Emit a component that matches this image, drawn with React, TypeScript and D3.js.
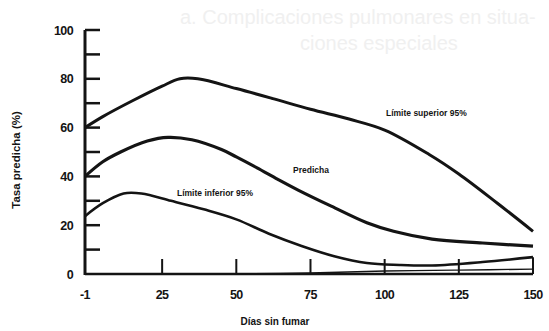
import * as d3 from 'd3';

// days without smoking (x) and predicted rate in % (y)
const upperDays = [-1, 5, 15, 25, 31, 37, 50, 62, 75, 88, 100, 115, 125, 138, 150];
const upperVals = [60, 64.5, 71, 77, 80, 80, 76, 72, 67.5, 63.5, 59, 49, 41, 29, 17.5];

const predDays = [-1, 5, 11, 20, 27, 35, 45, 50, 57, 64, 71, 82, 94, 103, 116, 133, 150];
const predVals = [40, 46, 50, 54.5, 56, 55, 51, 48, 43.5, 38.8, 34.3, 27.8, 21, 17.5, 14.3, 12.7, 11.4];

const lowerDays = [-1, 5, 12, 18, 28, 39, 50, 61, 72, 83, 94, 105, 116, 133, 150];
const lowerVals = [23.7, 29, 33, 33, 30, 26.5, 22.4, 16.5, 11.5, 7.3, 4.5, 3.7, 3.5, 4.9, 6.9];

const floorDays = [50, 75, 100, 125, 150];
const floorVals = [0, 0.4, 1.2, 1.6, 2];

const xTicks = [-1, 25, 50, 75, 100, 125, 150];
const yTicks = [0, 20, 40, 60, 80, 100];
const yMinorTicks = [10, 20, 30, 40, 50, 60, 70, 80, 90, 100];

const labelUpper = 'Límite superior 95%';
const labelPred = 'Predicha';
const labelLower = 'Límite inferior 95%';

export default function App() {
  const width = 549;
  const height = 331;

  const x = d3.scaleLinear().domain([-1, 150]).range([85, 533]);
  const y = d3.scaleLinear().domain([0, 100]).range([274, 30]);

  const line = d3.line<[number, number]>()
    .x(d => x(d[0]))
    .y(d => y(d[1]))
    .curve(d3.curveCatmullRom.alpha(0.5));

  const zip = (xs: number[], ys: number[]) => xs.map((v, i) => [v, ys[i]] as [number, number]);

  const font = '"Liberation Sans", Arial, sans-serif';
  const ink = '#141414';

  return (
    <svg width={width} height={height} style={{ position: 'absolute', left: 0, top: 0, background: '#fff' }}>
      {/* faint show-through of the page heading */}
      <text x={180} y={24} fontFamily={font} fontSize={20} fill="#f0f0f0">a. Complicaciones pulmonares en situa-</text>
      <text x={300} y={50} fontFamily={font} fontSize={20} fill="#f0f0f0">ciones especiales</text>

      {/* axes */}
      <line x1={x(-1)} x2={x(-1)} y1={y(100)} y2={y(0) + 1} stroke={ink} strokeWidth={3} />
      <line x1={x(-1)} x2={x(150)} y1={y(0)} y2={y(0)} stroke={ink} strokeWidth={2.5} />
      {yMinorTicks.map(t => (
        <line key={'yt' + t} x1={x(-1)} x2={x(-1) + 15} y1={y(t)} y2={y(t)} stroke={ink} strokeWidth={2.5} />
      ))}
      {xTicks.slice(1).map(t => (
        <line key={'xt' + t} x1={x(t)} x2={x(t)} y1={y(0)} y2={y(0) - 15} stroke={ink} strokeWidth={2} />
      ))}

      {yTicks.map(t => (
        <text key={'yl' + t} x={73} y={y(t) + 4.5} textAnchor="end" fontFamily={font} fontWeight="bold"
          fontSize={12.5} fill={ink} letterSpacing={-0.6}>{t}</text>
      ))}
      {xTicks.map(t => (
        <text key={'xl' + t} x={x(t)} y={299} textAnchor="middle" fontFamily={font} fontWeight="bold"
          fontSize={12.5} fill={ink} letterSpacing={-0.6}>{t}</text>
      ))}

      <text x={275} y={325} textAnchor="middle" fontFamily={font} fontWeight="bold" fontSize={10} fill={ink}>Días sin fumar</text>
      <text transform="translate(20,160) rotate(-90)" textAnchor="middle" fontFamily={font} fontWeight="bold"
        fontSize={11.5} fill={ink}>Tasa predicha (%)</text>

      {/* curves */}
      <path d={line(zip(upperDays, upperVals)) || ''} fill="none" stroke={ink} strokeWidth={3} strokeLinejoin="round" />
      <path d={line(zip(predDays, predVals)) || ''} fill="none" stroke={ink} strokeWidth={3.2} strokeLinejoin="round" />
      <path d={line(zip(lowerDays, lowerVals)) || ''} fill="none" stroke={ink} strokeWidth={2.6} strokeLinejoin="round" />
      <path d={line(zip(floorDays, floorVals)) || ''} fill="none" stroke={ink} strokeWidth={1.4} />
      <line x1={x(150)} x2={x(150)} y1={y(0)} y2={y(lowerVals[lowerVals.length - 1])} stroke={ink} strokeWidth={2} />

      {/* curve labels */}
      <text x={386} y={116} fontFamily={font} fontWeight="bold" fontSize={8.5} fill={ink}>{labelUpper}</text>
      <text x={293} y={173} fontFamily={font} fontWeight="bold" fontSize={8.5} fill={ink}>{labelPred}</text>
      <text x={177} y={196} fontFamily={font} fontWeight="bold" fontSize={8.5} fill={ink}>{labelLower}</text>
    </svg>
  );
}
